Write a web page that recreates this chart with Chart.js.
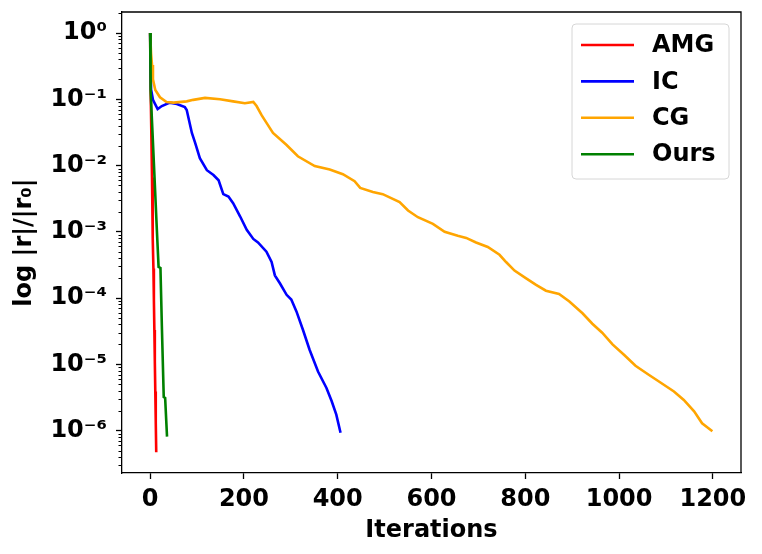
<!DOCTYPE html>
<html>
<head>
<meta charset="utf-8">
<script src="https://cdn.jsdelivr.net/npm/chart.js@4.4.0/dist/chart.umd.min.js"></script>
<style>
  html, body { margin: 0; padding: 0; background: #fff; }
  #wrap { width: 762px; height: 554px; }
</style>
</head>
<body>
<div id="wrap"><canvas id="myChart" width="762" height="554"></canvas></div>
<script>
const ctx = document.getElementById('myChart').getContext('2d');

// iteration, residual ratio
const amgIter = [0, 1, 2, 3, 4, 5, 6, 7, 8, 9, 10, 11, 12, 13];
const amgRes = [1, 0.16, 0.055, 0.019, 0.0066, 0.0023, 8.0e-4, 2.8e-4, 9.5e-5, 3.3e-5, 1.1e-5, 3.9e-6, 1.35e-6, 4.7e-7];

const icIter = [0, 2, 6, 16, 25, 42, 57, 74, 78, 89, 96, 106, 121, 135, 146, 156, 167, 177, 192, 206,
  220, 230, 248, 259, 266, 277, 291, 301, 312, 326, 340, 358, 376, 387, 397, 406];
const icRes = [1, 0.14, 0.098, 0.071, 0.079, 0.089, 0.085, 0.076, 0.069, 0.031, 0.022, 0.0129, 0.0085, 0.0072, 0.006, 0.0037, 0.0034, 0.0027, 0.0017, 0.00107,
  7.8e-4, 6.9e-4, 5.0e-4, 3.5e-4, 2.2e-4, 1.66e-4, 1.12e-4, 9.5e-5, 6.3e-5, 3.3e-5, 1.66e-5, 7.8e-6, 4.4e-6, 2.8e-6, 1.74e-6, 9.3e-7];

const cgIter = [0, 2, 4, 6, 11, 21, 35, 50, 78, 92, 117, 149, 177, 202, 220, 227, 238, 254, 262, 291,
  315, 351, 383, 411, 436, 448, 475, 496, 532, 550, 571, 603, 628, 656, 674, 695, 720, 745, 759, 777,
  801, 823, 844, 872, 894, 922, 943, 964, 986, 1011, 1035, 1064, 1085, 1117, 1138, 1160, 1177, 1199];
const cgRes = [1, 0.49, 0.33, 0.2, 0.138, 0.107, 0.091, 0.089, 0.093, 0.098, 0.105, 0.1, 0.093, 0.087, 0.091, 0.079, 0.057, 0.038, 0.031, 0.0204,
  0.0138, 0.0098, 0.0087, 0.0074, 0.0058, 0.0046, 0.004, 0.0037, 0.0028, 0.0021, 0.00166, 0.00132, 0.001, 8.7e-4, 8.1e-4, 6.9e-4, 5.9e-4, 4.5e-4, 3.5e-4, 2.6e-4,
  2.0e-4, 1.58e-4, 1.29e-4, 1.15e-4, 8.9e-5, 5.9e-5, 4.1e-5, 3.0e-5, 2.0e-5, 1.38e-5, 9.5e-6, 6.9e-6, 5.5e-6, 3.9e-6, 2.9e-6, 1.95e-6, 1.29e-6, 9.8e-7];

const oursIter = [0, 1, 5, 10, 14, 18, 22, 25, 29, 32, 36];
const oursRes = [1, 0.133, 0.032, 0.0052, 0.0012, 2.95e-4, 2.85e-4, 3.8e-5, 3.2e-6, 3.1e-6, 8.1e-7];

const seriesNames = ['AMG', 'IC', 'CG', 'Ours'];
const seriesColors = ['#ff0000', '#0000ff', '#ffa500', '#008000'];

const xTicks = [0, 200, 400, 600, 800, 1000, 1200];
const yTickValues = [1, 1e-1, 1e-2, 1e-3, 1e-4, 1e-5, 1e-6];
const yTickLabels = ['10⁰', '10⁻¹', '10⁻²', '10⁻³', '10⁻⁴', '10⁻⁵', '10⁻⁶'];

const FAMILY = "'DejaVu Sans', sans-serif";
const boldFont = { family: FAMILY, size: 24, weight: 'bold', lineHeight: 1.2 };

function pts(xs, ys) {
    return xs.map((x, i) => ({ x: x, y: ys[i] }));
}

const allData = [pts(amgIter, amgRes), pts(icIter, icRes), pts(cgIter, cgRes), pts(oursIter, oursRes)];

// matplotlib style: later series on top
const datasets = seriesNames.map((name, i) => ({
    label: name,
    data: allData[i],
    borderColor: seriesColors[i],
    backgroundColor: seriesColors[i],
    borderWidth: 2.6,
    pointRadius: 0,
    tension: 0,
    fill: false,
    order: seriesNames.length - i
}));

// minor ticks on the log axis + top/right spines
const frameAndMinor = {
    id: 'frameAndMinor',
    afterDraw(chart) {
        const c = chart.ctx, y = chart.scales.y, a = chart.chartArea;
        c.save();
        c.strokeStyle = '#000';
        c.lineWidth = 1;
        for (let e = -7; e <= 0; e++) {
            for (let m = 2; m <= 9; m++) {
                const v = m * Math.pow(10, e);
                if (v < y.min || v > y.max) continue;
                const py = Math.round(y.getPixelForValue(v)) + 0.5;
                c.beginPath();
                c.moveTo(a.left, py);
                c.lineTo(a.left - 3.5, py);
                c.stroke();
            }
        }
        c.lineWidth = 1.3;
        c.beginPath();
        c.moveTo(a.left, a.top);
        c.lineTo(a.right, a.top);
        c.lineTo(a.right, a.bottom);
        c.stroke();
        c.restore();
    }
};

// legend box in the upper right corner, like matplotlib
const boxLegend = {
    id: 'boxLegend',
    afterDraw(chart) {
        const c = chart.ctx;
        const bx = 572, by = 24, bw = 157, bh = 155, r = 4;
        c.save();
        c.beginPath();
        c.moveTo(bx + r, by);
        c.lineTo(bx + bw - r, by);
        c.arcTo(bx + bw, by, bx + bw, by + r, r);
        c.lineTo(bx + bw, by + bh - r);
        c.arcTo(bx + bw, by + bh, bx + bw - r, by + bh, r);
        c.lineTo(bx + r, by + bh);
        c.arcTo(bx, by + bh, bx, by + bh - r, r);
        c.lineTo(bx, by + r);
        c.arcTo(bx, by, bx + r, by, r);
        c.closePath();
        c.fillStyle = 'rgba(255,255,255,0.8)';
        c.fill();
        c.strokeStyle = '#d6d6d6';
        c.lineWidth = 1;
        c.stroke();

        c.font = 'bold 24px ' + FAMILY;
        c.textBaseline = 'middle';
        c.textAlign = 'left';
        chart.data.datasets.forEach((ds, i) => {
            const ry = 45 + i * 36.4;
            c.strokeStyle = ds.borderColor;
            c.lineWidth = 2.6;
            c.beginPath();
            c.moveTo(581, ry);
            c.lineTo(634, ry);
            c.stroke();
            c.fillStyle = '#000';
            c.fillText(ds.label, 652, ry + 1);
        });
        c.restore();
    }
};

new Chart(ctx, {
    type: 'line',
    data: { datasets: datasets },
    plugins: [frameAndMinor, boxLegend],
    options: {
        responsive: false,
        animation: false,
        events: [],
        layout: { padding: { left: 10, top: 12, right: 21, bottom: 0 } },
        plugins: {
            legend: { display: false },
            tooltip: { enabled: false }
        },
        scales: {
            x: {
                type: 'linear',
                min: -60,
                max: 1260,
                afterBuildTicks: axis => { axis.ticks = xTicks.map(v => ({ value: v })); },
                afterFit: s => { s.height = 81; s.paddingLeft = 0; s.paddingRight = 0; },
                ticks: {
                    color: '#000',
                    font: boldFont,
                    padding: 6,
                    maxRotation: 0,
                    autoSkip: false,
                    callback: v => String(v)
                },
                grid: { drawOnChartArea: false, tickLength: 6, tickWidth: 1.3, tickColor: '#000' },
                border: { display: true, color: '#000', width: 1.3 },
                title: { display: true, text: 'Iterations', color: '#000', font: boldFont, padding: { top: 0, bottom: 9 } }
            },
            y: {
                type: 'logarithmic',
                min: Math.pow(10, -6.64),
                max: Math.pow(10, 0.317),
                afterBuildTicks: axis => { axis.ticks = yTickValues.map(v => ({ value: v, major: true })); },
                afterFit: s => { s.width = 112; s.paddingTop = 0; s.paddingBottom = 0; },
                ticks: {
                    color: '#000',
                    font: boldFont,
                    padding: 9,
                    autoSkip: false,
                    callback: (v, i) => yTickLabels[i]
                },
                grid: { drawOnChartArea: false, tickLength: 6, tickWidth: 1.3, tickColor: '#000' },
                border: { display: true, color: '#000', width: 1.3 },
                title: { display: true, text: 'log |r|/|r₀|', color: '#000', font: boldFont, padding: { top: 0, bottom: 0 } }
            }
        }
    }
});
</script>
</body>
</html>
